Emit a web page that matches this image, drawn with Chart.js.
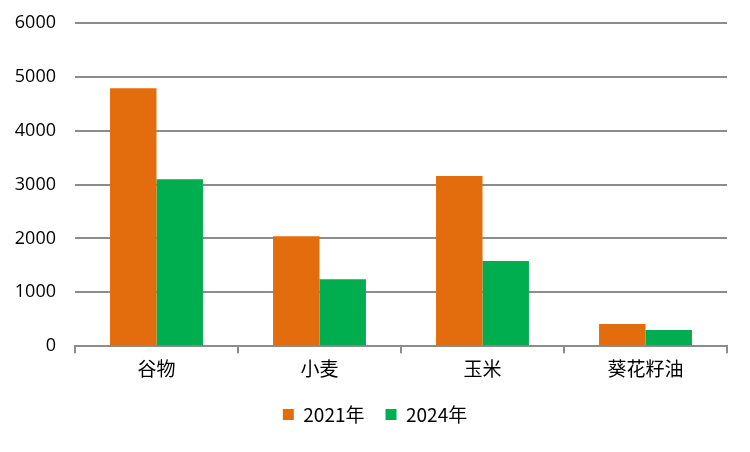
<!DOCTYPE html>
<html>
<head>
<meta charset="utf-8">
<script src="https://cdn.jsdelivr.net/npm/chart.js@4/dist/chart.umd.min.js"></script>
<style>
  html, body { margin: 0; padding: 0; background: #fff; }
  #wrap { width: 750px; height: 452px; }
</style>
</head>
<body>
<div id="wrap"><canvas id="chart"></canvas></div>
<script>
const categories = ['谷物', '小麦', '玉米', '葵花籽油'];
const values2021 = [4790, 2040, 3160, 410];
const values2024 = [3100, 1245, 1580, 300];
const yTicks = [0, 1000, 2000, 3000, 4000, 5000, 6000];

const gridGray = '#8c8c8c';
const cjk = "'Noto Sans CJK SC', 'Liberation Sans', sans-serif";

// fixed-width axes, no extra padding from label overflow
const fixWidth = w => s => { s.width = w; s.paddingTop = 0; s.paddingBottom = 0; };

new Chart(document.getElementById('chart'), {
  type: 'bar',
  data: {
    labels: categories,
    datasets: [
      { label: '2021年', data: values2021, backgroundColor: '#e36c0d', categoryPercentage: 0.57, barPercentage: 1 },
      { label: '2024年', data: values2024, backgroundColor: '#00ae50', categoryPercentage: 0.57, barPercentage: 1 }
    ]
  },
  options: {
    responsive: true,
    maintainAspectRatio: false,
    animation: false,
    layout: { padding: { top: 23, right: 0, left: 0, bottom: 18 } },
    plugins: {
      tooltip: { enabled: false },
      legend: {
        position: 'bottom',
        labels: {
          boxWidth: 11, boxHeight: 11, padding: 21,
          color: '#000',
          font: { family: cjk, size: 19 }
        }
      }
    },
    scales: {
      x: {
        grid: { offset: true, drawOnChartArea: false, color: gridGray, lineWidth: 2, tickLength: 7 },
        border: { color: gridGray, width: 2 },
        ticks: { color: '#000', font: { family: cjk, size: 19 }, padding: 4 }
      },
      y: {
        min: 0, max: 6000,
        afterBuildTicks: s => { s.ticks = yTicks.map(v => ({ value: v })); },
        afterFit: fixWidth(75),
        grid: { color: gridGray, lineWidth: 2, drawTicks: false },
        border: { display: false },
        ticks: {
          color: '#000',
          font: { family: "'Open Sans', 'Liberation Sans', sans-serif", size: 18 },
          padding: 19,
          callback: v => String(v)
        }
      },
      yRight: {
        position: 'right',
        min: 0, max: 6000,
        afterFit: fixWidth(23),
        grid: { display: false },
        border: { display: false },
        ticks: { display: false }
      }
    }
  }
});
</script>
</body>
</html>
